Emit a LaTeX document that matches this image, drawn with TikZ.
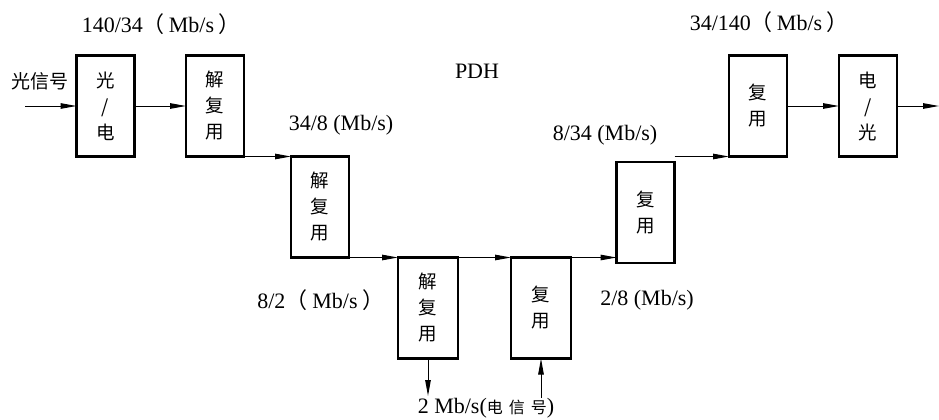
\documentclass[tikz,border=0pt]{standalone}
\usepackage{fontspec}
\setmainfont{Liberation Serif}
\newfontfamily\cjk{Noto Sans CJK SC}
\usetikzlibrary{arrows.meta}
\begin{document}
\begin{tikzpicture}[x=1pt,y=-1pt,
  blk/.style={draw, line width=2.4pt, minimum width=58pt, minimum height=101pt,
    inner sep=0pt, outer sep=0pt, align=center, font=\cjk\fontsize{18.5}{26}\selectfont},
  lbl/.style={inner sep=0pt, font=\fontsize{22}{26}\selectfont},
  con/.style={line width=1pt, -{Triangle[length=16pt,width=5.5pt]}}]
\useasboundingbox (0,0) rectangle (939,420);
% blocks
\node[blk] (b1) at (105.5,106) {光\\/\\电};
\node[blk] (b2) at (215,106) {解\\复\\用};
\node[blk] (b3) at (320,207) {解\\复\\用};
\node[blk, minimum width=60pt] (b4) at (428,308) {解\\复\\用};
\node[blk, minimum width=60pt] (b5) at (541,308) {复\\用};
\node[blk] (b6) at (645.5,212.5) {复\\用};
\node[blk] (b7) at (758,106) {复\\用};
\node[blk] (b8) at (868,106) {电\\/\\光};
% free ends
\coordinate (in) at (25,106);
\coordinate (out) at (939,106);
\coordinate (d1) at (428,396);
\coordinate (u1) at (541,398);
% labels
\node[inner sep=0pt, font=\cjk\fontsize{19}{20}\selectfont] (lin) at (40,81) {光信号};
\node[lbl] (l1) at (161,24) {140/34{\cjk （}\hspace{4pt}Mb/s\hspace{4pt}{\cjk ）}};
\node[lbl] (l2) at (477,71) {PDH};
\node[lbl] (l3) at (341,125) {34/8 (Mb/s)};
\node[lbl] (l4) at (321,300) {8/2{\cjk （}\hspace{5pt}Mb/s\hspace{5pt}{\cjk ）}};
\node[lbl] (l5) at (486,408) {2 Mb/s({\cjk\fontsize{16}{18}\selectfont 电\hspace{6pt}信\hspace{6pt}号})};
\node[lbl] (l6) at (647,300) {2/8 (Mb/s)};
\node[lbl] (l7) at (605,135) {8/34 (Mb/s)};
\node[lbl] (l8) at (769,22) {34/140{\cjk （}\hspace{4pt}Mb/s\hspace{4pt}{\cjk ）}};
% connectors
\draw[con] (in) -- (b1.west);
\draw[con] (b1) -- (b2);
\draw[con] (b2.south east) -- (b3.north west);
\draw[con] (b3.south east) -- (b4.north west);
\draw[con] (b4.north east) -- (b5.north west);
\draw[con] (b5.north east) -- (b5.north east -| b6.west);
\draw[con] (b7.south west -| b6.east) -- (b7.south west);
\draw[con] (b7) -- (b8);
\draw[con] (b8.east) -- (out);
\draw[con] (b4.south) -- (d1);
\draw[con] (u1) -- (b5.south);
\end{tikzpicture}
\end{document}
